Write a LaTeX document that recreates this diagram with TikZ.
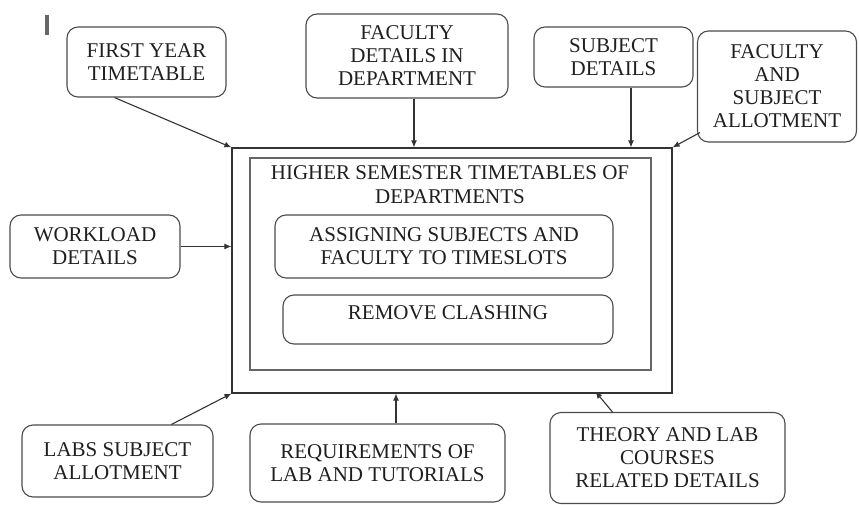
\documentclass[tikz,border=0pt]{standalone}
\usepackage{fontspec}
\setmainfont{Liberation Serif}
\usetikzlibrary{arrows.meta,calc}
\begin{document}
\begin{tikzpicture}[x=1pt,y=-1pt,
  box/.style={draw=black!70, line width=1.1pt, rounded corners=11pt, align=center, inner sep=0pt, font=\fontsize{21}{23}\selectfont, text=black!88},
  frame/.style={draw=black!80, line width=1.2pt, inner sep=0pt},
  lbl/.style={align=center, inner sep=0pt, font=\fontsize{21}{24}\selectfont, text=black!88},
  arr/.style={draw=black!80, line width=1.1pt, -{Latex[length=7pt,width=6pt]}}]
\useasboundingbox (0,0) rectangle (859,505);
% stray mark
\draw[black!60, line width=3.5pt] (47,15) -- (47,35);
% main frames
\node[frame, minimum width=440pt, minimum height=245pt] (outer) at (452,270.5) {};
\node[frame, draw=black!60, line width=1.5pt, minimum width=401pt, minimum height=212pt] (inner) at (450.5,264) {};
\node[lbl] (title) at (450,185) {HIGHER SEMESTER TIMETABLES OF\\DEPARTMENTS};
\node[box, minimum width=338pt, minimum height=63pt] (assign) at (444,246.5) {ASSIGNING SUBJECTS AND\\FACULTY TO TIMESLOTS};
\node[box, minimum width=330pt, minimum height=49pt, text height=14pt, text depth=14pt] (remove) at (448,319.5) {REMOVE CLASHING};
% input boxes
\node[box, minimum width=159pt, minimum height=70pt] (fy) at (146.5,62) {FIRST YEAR\\TIMETABLE};
\node[box, minimum width=202pt, minimum height=84pt] (fd) at (407,56) {FACULTY\\DETAILS IN\\DEPARTMENT};
\node[box, minimum width=159pt, minimum height=111pt] (fsa) at (777,86.5) {FACULTY\\AND\\SUBJECT\\ALLOTMENT};
\node[box, minimum width=159pt, minimum height=60pt] (sd) at (613.5,57) {SUBJECT\\DETAILS};
\node[box, minimum width=170pt, minimum height=63pt] (wl) at (95,246.5) {WORKLOAD\\DETAILS};
\node[box, minimum width=191pt, minimum height=72pt] (labs) at (117.5,461) {LABS SUBJECT\\ALLOTMENT};
\node[box, minimum width=255pt, minimum height=78pt] (req) at (377.5,463) {REQUIREMENTS OF\\LAB AND TUTORIALS};
\node[box, minimum width=235pt, minimum height=91pt] (th) at (667.5,458) {THEORY AND LAB\\COURSES\\RELATED DETAILS};
% connector ends
\coordinate (fyS) at ($(fy.south west)+(48,0)$);
\coordinate (fdS) at ($(fd.south)+(7,0)$);
\coordinate (sdS) at ($(sd.south)+(17.5,0)$);
\coordinate (fsaS) at ($(fsa.south west)+(3,-10)$);
\coordinate (labsN) at ($(labs.north west)+(150,0)$);
\coordinate (reqN) at ($(req.north)+(18.5,0)$);
\coordinate (thN) at ($(th.north west)+(63,0)$);
\coordinate (thE) at ($(outer.south west)+(364,-2)$);
% connectors
\draw[arr] (fyS) -- (outer.north west);
\draw[arr] (fdS) -- (fdS |- outer.north);
\draw[arr] (sdS) -- (sdS |- outer.north);
\draw[arr] (fsaS) -- (outer.north east);
\draw[arr] (wl.east) -- (wl.east -| outer.west);
\draw[arr] (labsN) -- (outer.south west);
\draw[arr] (reqN) -- (reqN |- outer.south);
\draw[arr] (thN) -- (thE);
\end{tikzpicture}
\end{document}
